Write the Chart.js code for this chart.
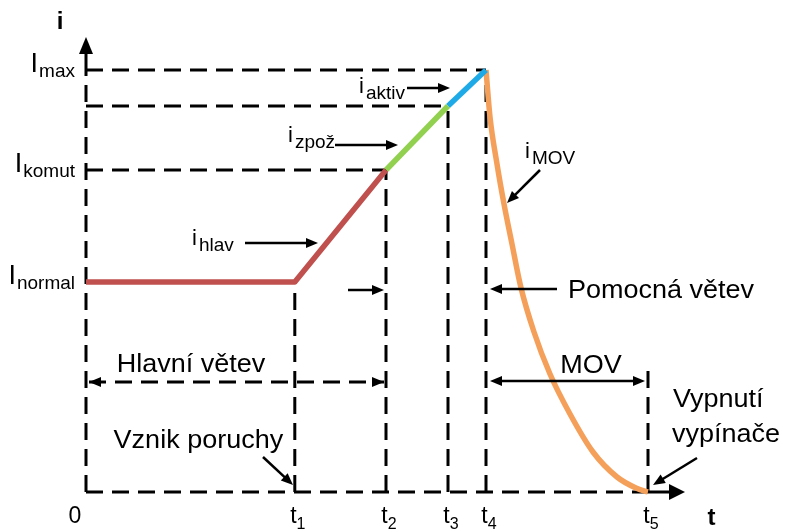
<!DOCTYPE html>
<html><head><meta charset="utf-8">
<script src="https://cdn.jsdelivr.net/npm/chart.js@4.4.1/dist/chart.umd.min.js"></script>
<style>html,body{margin:0;padding:0;background:#fff}canvas{display:block}</style>
</head><body>
<canvas id="c" width="786" height="531"></canvas>
<script>
// ---- data (time and current in arbitrary units) ----
const tickValues = [0, 5.22, 7.5, 9.05, 10.0, 14.05];
const tickMain   = ['0', 't', 't', 't', 't', 't'];
const tickSub    = ['', '1', '2', '3', '4', '5'];

const levelValues = [5.25, 8.05, 10.55];          // Inormal, Ikomut, Imax
const levelMain   = ['I', 'I', 'I'];
const levelSub    = ['normal', 'komut', 'max'];
const iDelayEnd   = 9.65;                          // current at t3

const hlavTime    = [0, 5.22, 7.5];
const hlavCurrent = [5.25, 5.25, 8.05];
const zpozTime    = [7.5, 9.05];
const zpozCurrent = [8.05, 9.65];
const aktivTime   = [9.05, 10.0];
const aktivCurrent= [9.65, 10.55];
const movTime     = [10.0, 10.1, 10.275, 10.45, 10.65, 10.87, 11.2, 11.6, 12.1, 12.675, 13.275, 13.75, 14.05];
const movCurrent  = [10.55, 9.375, 8.2, 7.2, 6.2, 5.125, 4.0, 2.95, 1.95, 1.0, 0.375, 0.1, 0];

const curveNames  = ['hlav', 'zpož', 'aktiv', 'MOV'];
const noteTexts   = ['Hlavní větev', 'Vznik poruchy', 'Pomocná větev', 'MOV', 'Vypnutí', 'vypínače'];

// ---- helpers ----
const pts = (xs, ys) => xs.map((x, i) => ({x, y: ys[i]}));
const FONT = '"Liberation Sans", Arial, Helvetica, sans-serif';
const colors = {hlav: '#c0504d', zpoz: '#92d050', aktiv: '#1eaae7', mov: '#f5a05a'};

const [t0, t1, t2, t3, t4, t5] = tickValues;
const [In, Ik, Imax] = levelValues;

function curve(data, color) {
  return {data, borderColor: color, borderWidth: 5.5, pointRadius: 0, showLine: true, fill: false,
          clip: false, borderCapStyle: 'butt', borderJoinStyle: 'round'};
}
function dashed(data) {
  return {data, borderColor: '#000', borderWidth: 3, borderDash: [17, 9], pointRadius: 0,
          showLine: true, fill: false, clip: false, borderCapStyle: 'butt', tension: 0};
}

const datasets = [
  curve(pts(hlavTime, hlavCurrent), colors.hlav),
  curve(pts(zpozTime, zpozCurrent), colors.zpoz),
  curve(pts(aktivTime, aktivCurrent), colors.aktiv),
  Object.assign(curve(pts(movTime, movCurrent), colors.mov), {cubicInterpolationMode: 'monotone'}),
  // axes (dashed parts)
  dashed([{x: 0, y: 0}, {x: 0, y: Imax}]),
  dashed([{x: 0, y: 0}, {x: t5, y: 0}]),
  // level lines
  dashed([{x: 0, y: Imax}, {x: t4, y: Imax}]),
  dashed([{x: 0, y: iDelayEnd}, {x: t3, y: iDelayEnd}]),
  dashed([{x: 0, y: Ik}, {x: t2, y: Ik}]),
  // time verticals
  dashed([{x: t1, y: 0}, {x: t1, y: In}]),
  dashed([{x: t2, y: 0}, {x: t2, y: Ik}]),
  dashed([{x: t3, y: 0}, {x: t3, y: iDelayEnd}]),
  dashed([{x: t4, y: 0}, {x: t4, y: Imax}]),
  dashed([{x: t5, y: 0}, {x: t5, y: 3.125}]),
  // Hlavní větev span
  dashed([{x: 0.075, y: 2.75}, {x: 7.45, y: 2.75}]),
];

// annotation layout (data units)
const arrows = [
  // [x1,y1,x2,y2, width, headLen, headHalf, both]
  [0, Imax, 0, 11.375, 3, 17, 7, false],
  [t5, 0, 14.975, 0, 3, 16, 8, false],
  [8.025, 10.1, 9.1, 10.1, 2.5, 12, 5, false],
  [6.225, 8.675, 7.8, 8.675, 2.5, 12, 5, false],
  [3.975, 6.225, 5.8, 6.225, 2.5, 12, 5, false],
  [6.55, 5.05, 7.45, 5.05, 2.5, 12, 5, false],
  [11.775, 5.075, 10.1, 5.075, 2.5, 12, 5, false],
  [10.1, 2.775, 13.975, 2.775, 2.5, 12, 5, true],
  [11.35, 8.05, 10.525, 7.225, 2.5, 12, 5, false],
  [4.425, 0.875, 5.175, 0.175, 2.5, 12, 5, false],
  [15.275, 0.85, 14.175, 0.175, 2.5, 12, 5, false],
];
const heads = [ // heads only, for dashed span
  [7.0, 2.75, 7.45, 2.75], [0.5, 2.75, 0.075, 2.75]
];

function drawText(ctx, s, x, y, size, align, weight, sx) {
  ctx.save();
  ctx.font = (weight || 'normal') + ' ' + size + 'px ' + FONT;
  ctx.translate(x, y);
  ctx.scale(sx || 1, 1);
  ctx.textAlign = align || 'left';
  ctx.textBaseline = 'alphabetic';
  ctx.fillStyle = '#000';
  ctx.fillText(s, 0, 0);
  const w = ctx.measureText(s).width * (sx || 1);
  ctx.restore();
  return w;
}
function arrowHead(ctx, x1, y1, x2, y2, len, half) {
  const a = Math.atan2(y2 - y1, x2 - x1);
  ctx.beginPath();
  ctx.moveTo(x2, y2);
  ctx.lineTo(x2 - len * Math.cos(a) + half * Math.sin(a), y2 - len * Math.sin(a) - half * Math.cos(a));
  ctx.lineTo(x2 - len * Math.cos(a) - half * Math.sin(a), y2 - len * Math.sin(a) + half * Math.cos(a));
  ctx.closePath();
  ctx.fill();
}

const annot = {
  id: 'annot',
  afterDatasetsDraw(chart) {
    const ctx = chart.ctx, X = chart.scales.x, Y = chart.scales.y;
    const px = v => X.getPixelForValue(v), py = v => Y.getPixelForValue(v);
    ctx.save();
    ctx.fillStyle = '#000'; ctx.strokeStyle = '#000';
    // arrows
    arrows.forEach(([x1, y1, x2, y2, w, hl, hh, both]) => {
      const a = px(x1), b = py(y1), c = px(x2), d = py(y2);
      const ang = Math.atan2(d - b, c - a);
      ctx.lineWidth = w; ctx.setLineDash([]);
      ctx.beginPath();
      ctx.moveTo(both ? a + (hl - 2) * Math.cos(ang) : a, both ? b + (hl - 2) * Math.sin(ang) : b);
      ctx.lineTo(c - (hl - 2) * Math.cos(ang), d - (hl - 2) * Math.sin(ang));
      ctx.stroke();
      arrowHead(ctx, a, b, c, d, hl, hh);
      if (both) arrowHead(ctx, c, d, a, b, hl, hh);
    });
    heads.forEach(([x1, y1, x2, y2]) => arrowHead(ctx, px(x1), py(y1), px(x2), py(y2), 12, 5));

    // axis names
    drawText(ctx, 'i', px(0) - 26, 29, 24, 'center', 'bold');
    drawText(ctx, 't', px(15.64), py(0) + 33, 24, 'center', 'bold');

    // tick labels
    tickValues.forEach((v, i) => {
      const x = px(v) + 3, y = py(0) + 31;
      ctx.font = '23px ' + FONT;
      const wm = ctx.measureText(tickMain[i]).width;
      ctx.font = '16px ' + FONT;
      const ws = tickSub[i] ? ctx.measureText(tickSub[i]).width : 0;
      let left = x - (wm + ws) / 2;
      if (i === 0) left = px(v) - 11 - wm / 2;
      drawText(ctx, tickMain[i], left, y, 23, 'left');
      if (tickSub[i]) drawText(ctx, tickSub[i], left + wm, y + 6, 16, 'left');
    });

    // level labels (right aligned to the axis)
    levelValues.forEach((v, i) => {
      const xr = px(0) - 11, y = py(v) + 2;
      const ws = drawText(ctx, levelSub[i], xr, y + 5, 19, 'right');
      drawText(ctx, levelMain[i], xr - ws - 1, y, 27, 'right');
    });

    // current labels
    const iLabels = [[2.65, 6.175], [5.05, 8.75], [6.825, 9.975], [10.975, 8.35]];
    iLabels.forEach(([x, y], i) => {
      const w = drawText(ctx, 'i', px(x), py(y), 22, 'left');
      drawText(ctx, curveNames[i], px(x) + w + 2, py(y) + 6, 19, 'left');
    });

    // notes
    const notePos = [[2.625, 3.0, 'center'], [2.81, 1.1, 'center'], [12.05, 4.85, 'left'],
                     [12.625, 2.975, 'center'], [14.675, 2.125, 'left'], [14.65, 1.25, 'left']];
    noteTexts.forEach((s, i) => {
      const [x, y, al] = notePos[i];
      drawText(ctx, s, px(x), py(y), 25, al, 'normal', 1.08);
    });
    ctx.restore();
  }
};

new Chart(document.getElementById('c'), {
  type: 'scatter',
  data: {datasets},
  options: {
    responsive: false, animation: false, devicePixelRatio: 1,
    layout: {padding: {left: 86, right: 0, top: 0, bottom: 39}},
    plugins: {legend: {display: false}, tooltip: {enabled: false}},
    scales: {
      x: {type: 'linear', min: 0, max: 17.5, display: false},
      y: {type: 'linear', min: 0, max: 12.3, display: false}
    }
  },
  plugins: [annot]
});
</script>
</body></html>
